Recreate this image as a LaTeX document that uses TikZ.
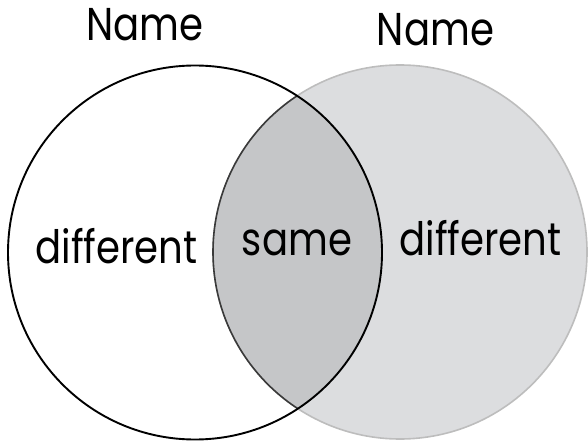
\documentclass[tikz,border=0pt]{standalone}
\usepackage{fontspec}
\setmainfont{Poppins}[FakeStretch=0.84]
\usepackage{xcolor}
\usetikzlibrary{positioning}
\definecolor{RightFill}{HTML}{DCDDDF}
\definecolor{RightBorder}{HTML}{BDBDBD}
\definecolor{LensFill}{HTML}{C5C6C8}
\definecolor{LensBorder}{HTML}{3A3A3A}

\begin{document}
\begin{tikzpicture}[
    % one unit is one pixel of the reference
    x=1pt, y=1pt,
    % default text in a geometric sans
    font=\fontsize{46}{50}\selectfont,
]
    % --- Define TikZ styles for the sets ---
    \tikzset{
        % Style for the set circles
        setcircle/.style={
            shape=circle,
            minimum size=374pt,
            inner sep=0pt,
        },
        % Style for the labels inside the sets
        setlabel/.style={
            anchor=base,
            inner sep=0pt,
        },
        % Style for the titles above the sets
        settitle/.style={
            anchor=base,
            inner sep=0pt,
        }
    }

    % Fix the canvas to the reference size
    \useasboundingbox (0,0) rectangle (588,442);

    % 1. Right set, drawn first so the left one sits on top
    \node[setcircle, fill=RightFill, draw=RightBorder, line width=1.6pt] (right) at (400,190) {};

    % 2. Shade the overlap of the two sets
    \begin{scope}
        \clip (195,189.5) circle[radius=187pt];
        \fill[LensFill] (right.center) circle[radius=187pt];
        \draw[LensBorder, line width=1.6pt] (right.center) circle[radius=187pt];
    \end{scope}

    % 3. Left set on top
    \node[setcircle, draw=black, line width=1.9pt] (left) at (195,189.5) {};

    % 4. Titles above the sets
    \node[settitle] (leftname)  at (145,401) {Name};
    \node[settitle] (rightname) at (435.5,396) {Name};

    % 5. Labels inside the sets
    \node[setlabel] (leftdiff)  at (116.5,179) {different};
    \node[setlabel] (same)      at (297,187) {same};
    \node[setlabel] (rightdiff) at (480.5,187) {different};

\end{tikzpicture}
\end{document}
